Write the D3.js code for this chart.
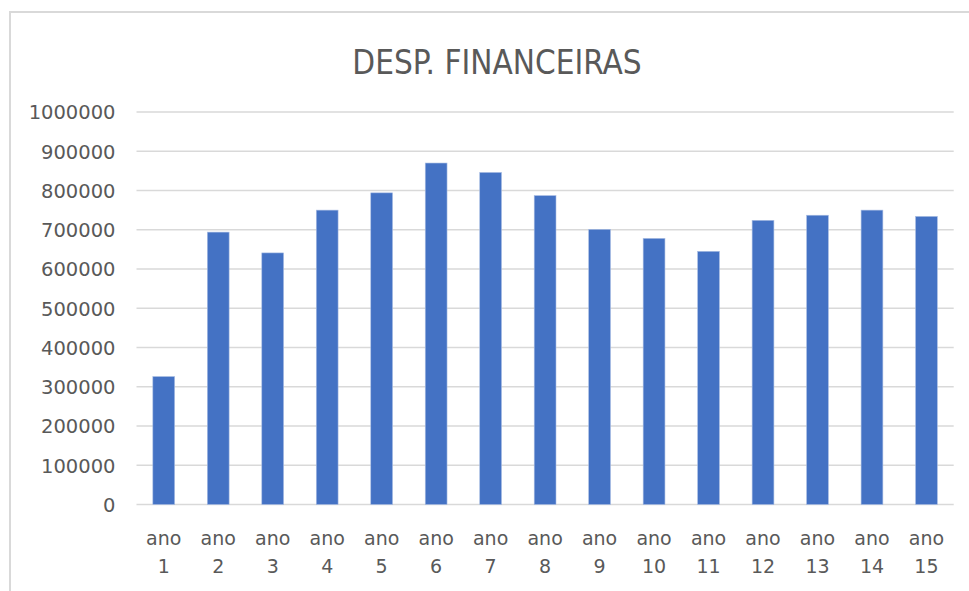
<!DOCTYPE html>
<html>
<head>
<meta charset="utf-8">
<script src="https://cdn.jsdelivr.net/npm/d3@7"></script>
<style>
  html, body { margin: 0; padding: 0; background: #fff; }
  svg { display: block; }
</style>
</head>
<body>
<svg id="chart" width="969" height="591"></svg>
<script>
const title = "DESP. FINANCEIRAS";
const categories = ["ano 1","ano 2","ano 3","ano 4","ano 5","ano 6","ano 7","ano 8","ano 9","ano 10","ano 11","ano 12","ano 13","ano 14","ano 15"];
const values = [326000, 694000, 641000, 750000, 794000, 870000, 846000, 787000, 701000, 678000, 645000, 724000, 737000, 750000, 734000];
const yTicks = [0, 100000, 200000, 300000, 400000, 500000, 600000, 700000, 800000, 900000, 1000000];

const W = 969, H = 591;
const margin = { left: 136.5, right: 15.3, top: 112, bottom: 86.5 };
const svg = d3.select("#chart");
const font = "'DejaVu Sans', 'Liberation Sans', sans-serif";
const textColor = "#595959";

// chart border
svg.append("path")
  .attr("d", `M10,${H} L10,12 L${W},12`)
  .attr("fill", "none").attr("stroke", "#d9d9d9").attr("stroke-width", 2);

const x = d3.scaleBand().domain(categories)
  .range([margin.left, W - margin.right]).paddingInner(0.6).paddingOuter(0.3);
const y = d3.scaleLinear().domain([0, 1000000]).range([H - margin.bottom, margin.top]);

// gridlines
svg.append("g").selectAll("line").data(yTicks).join("line")
  .attr("x1", margin.left).attr("x2", W - margin.right)
  .attr("y1", d => y(d)).attr("y2", d => y(d))
  .attr("stroke", "#d9d9d9").attr("stroke-width", 1.5);

// y axis labels
const yAxis = d3.axisLeft(y).tickValues(yTicks).tickSize(0).tickPadding(0).tickFormat(d3.format("d"));
const yg = svg.append("g").attr("transform", `translate(115.5,0)`).call(yAxis);
yg.select(".domain").remove();
yg.selectAll("text").attr("fill", textColor).style("font-family", font).style("font-size", "19.5px").attr("x", 0).attr("dy", "0.35em");

// bars
svg.append("g").selectAll("rect").data(values).join("rect")
  .attr("x", (d, i) => x(categories[i]))
  .attr("width", x.bandwidth())
  .attr("y", d => y(d))
  .attr("height", d => y(0) - y(d))
  .attr("fill", "#4472c4")
  .attr("stroke", "#a9bde3").attr("stroke-width", 0.6);

// x axis labels (two lines)
const xAxis = d3.axisBottom(x).tickSize(0).tickPadding(0);
const xg = svg.append("g").attr("transform", `translate(0,${y(0)})`).call(xAxis);
xg.select(".domain").remove();
xg.selectAll("text").each(function(d) {
  const t = d3.select(this);
  const parts = d.split(" ");
  t.text(null).attr("y", 0).attr("dy", null)
    .attr("fill", textColor).style("font-family", font).style("font-size", "19px");
  parts.forEach((p, k) => {
    t.append("tspan").attr("x", 0).attr("y", 40.5 + k * 28).text(p);
  });
});

// title
svg.append("text")
  .attr("x", 497).attr("y", 73.5)
  .attr("text-anchor", "middle")
  .attr("fill", textColor)
  .style("font-family", "'DejaVu Sans Condensed', 'DejaVu Sans', sans-serif")
  .style("font-size", "33px")
  .text(title);
</script>
</body>
</html>
